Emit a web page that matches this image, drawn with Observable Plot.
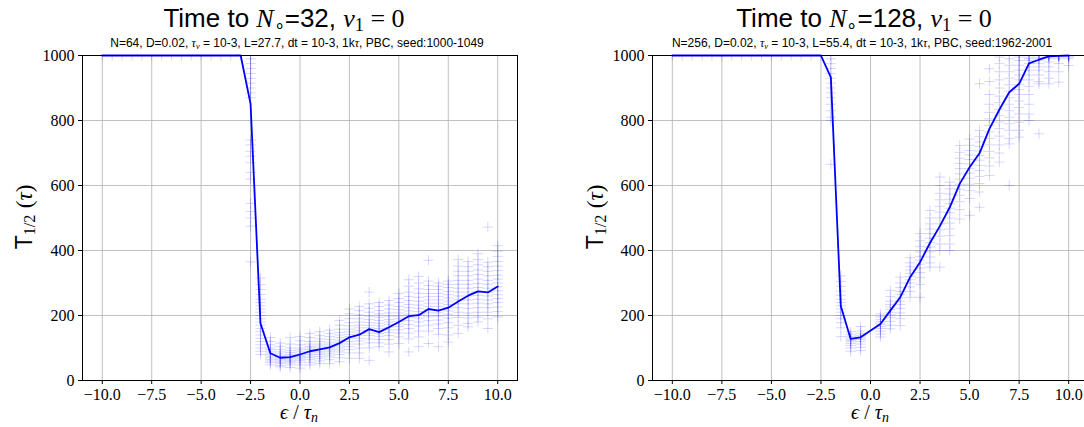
<!DOCTYPE html>
<html><head><meta charset="utf-8">
<script src="https://cdn.jsdelivr.net/npm/d3@7"></script>
<script src="https://cdn.jsdelivr.net/npm/@observablehq/plot@0.6"></script>
<style>
html,body{margin:0;padding:0;background:#fff;}
#wrap{position:relative;width:1084px;height:427px;overflow:hidden;background:#fff;}
.svgbox{position:absolute;top:50px;height:377px;}
.svgbox svg{max-width:none !important;}
.title{position:absolute;top:4px;transform:translateX(-50%);white-space:nowrap;font-family:"Liberation Sans",Arial,sans-serif;font-size:26px;line-height:28px;height:30px;color:#000;}
.subtitle{position:absolute;top:37px;transform:translateX(-50%);white-space:nowrap;font-family:"Liberation Sans",Arial,sans-serif;font-size:12px;line-height:13px;color:#000;}
.m{font-family:"Liberation Serif",serif;}
.mi{font-family:"Liberation Serif",serif;font-style:italic;}
sub{font-size:70%;vertical-align:-0.2em;line-height:0;}
.ylab{position:absolute;white-space:nowrap;transform:translate(-50%,-50%) rotate(-90deg);font-family:"Liberation Sans",Arial,sans-serif;font-size:23px;line-height:26px;}
.xlab{position:absolute;top:401px;transform:translateX(-50%);white-space:nowrap;font-family:"Liberation Serif",serif;font-size:20px;line-height:22px;}
</style>
</head><body>
<div id="wrap">
  <div class="title" style="left:284px">Time to <span class="mi">N</span><sub class="m">∘</sub>=32, <span class="mi">v</span><sub class="m">1</sub><span class="m"> = 0</span></div>
  <div class="subtitle" style="left:297px">N=64, D=0.02, <span class="mi">τ<sub>v</sub></span> = 10-3, L=27.7, dt = 10-3, 1k<span class="mi">τ</span>, PBC, seed:1000-1049</div>
  <div class="title" style="left:864px">Time to <span class="mi">N</span><sub class="m">∘</sub>=128, <span class="mi">v</span><sub class="m">1</sub><span class="m"> = 0</span></div>
  <div class="subtitle" style="left:862px">N=256, D=0.02, <span class="mi">τ<sub>v</sub></span> = 10-3, L=55.4, dt = 10-3, 1k<span class="mi">τ</span>, PBC, seed:1962-2001</div>
  <div class="ylab" style="left:24px;top:217px">T<sub class="m">1/2</sub> <span class="m">(</span><span class="mi">τ</span><span class="m">)</span></div>
  <div class="ylab" style="left:595px;top:217px">T<sub class="m">1/2</sub> <span class="m">(</span><span class="mi">τ</span><span class="m">)</span></div>
  <div class="xlab" style="left:299px"><span class="mi">ϵ</span> / <span class="mi">τ</span><sub class="mi">n</sub></div>
  <div class="xlab" style="left:870px"><span class="mi">ϵ</span> / <span class="mi">τ</span><sub class="mi">n</sub></div>
  <div class="svgbox" id="left" style="left:0px;width:542px"></div>
  <div class="svgbox" id="right" style="left:542px;width:550px"></div>
</div>
<script>
// ---- tick values ----
const xTicks = [-10, -7.5, -5, -2.5, 0, 2.5, 5, 7.5, 10];
const yTicks = [0, 200, 400, 600, 800, 1000];

// ---- left panel (N=64) ----
const epsLeft = [-10,-9.5,-9,-8.5,-8,-7.5,-7,-6.5,-6,-5.5,-5,-4.5,-4,-3.5,-3,
  -2.5,-2,-1.5,-1,-0.5,0,0.5,1,1.5,2,2.5,3,3.5,4,4.5,5,5.5,6,6.5,7,7.5,8,8.5,9,9.5,10];
const meanLeft = [1000,1000,1000,1000,1000,1000,1000,1000,1000,1000,1000,1000,1000,1000,1000,
  851,176,84,70,72,80,90,96,102,115,133,141,158,149,164,180,198,201,220,215,224,243,261,274,271,289];
const runsLeft = [
  [1000],[1000],[1000],[1000],[1000],[1000],[1000],[1000],[1000],[1000],[1000],[1000],[1000],[1000],[1000],
  [1000,990,975,960,945,930,915,900,885,870,740,725,705,690,670,640,620,545,520,500,475,365],
  [315,295,280,265,250,240,230,220,210,200,190,180,170,160,150,140,130,120,110,100,90,80],
  [132,120,110,100,95,90,85,80,75,70,65,60,55,48],
  [115,105,95,88,82,76,72,68,64,60,56,52,46,42],
  [132,112,100,92,86,80,75,70,66,62,58,54,48,40],
  [135,122,110,100,94,88,82,78,74,70,66,62,56,48,38],
  [145,132,120,112,105,100,95,90,85,80,75,70,64,56,48],
  [150,138,128,120,112,106,100,95,90,85,80,74,68,60,52],
  [155,145,135,126,118,112,106,100,95,90,84,78,72,64,52],
  [185,170,158,148,140,132,124,118,112,106,100,94,88,80,70,58],
  [220,205,190,178,168,158,150,142,135,128,120,112,104,95,85,68],
  [228,215,202,190,180,170,162,154,146,138,130,122,112,100,85,68],
  [272,236,222,210,198,188,178,170,162,154,146,138,128,116,100,62],
  [240,228,215,205,195,185,176,168,160,152,144,136,126,116,104],
  [246,232,220,208,198,188,180,172,164,156,148,138,126,112,88],
  [268,252,240,228,218,208,198,190,182,174,166,156,146,134,114],
  [310,290,272,258,246,234,224,214,204,194,184,172,160,146,128,88],
  [320,300,282,268,256,244,232,222,212,202,192,180,168,152,134,104],
  [370,306,292,280,268,258,248,238,228,218,208,196,184,170,152,114],
  [300,290,280,268,258,248,238,228,218,208,198,186,174,160,142,104],
  [306,296,286,274,264,254,244,234,224,214,204,192,178,162,140,118],
  [372,352,336,322,308,296,284,272,260,248,236,224,210,194,170,145],
  [366,350,336,322,308,296,284,272,260,248,236,222,208,192,175,165],
  [390,372,356,340,326,312,298,286,274,262,250,238,224,210,195,180],
  [472,364,350,336,322,308,296,284,272,260,248,236,224,210,190,160],
  [415,398,382,366,352,338,324,312,300,288,276,264,252,240,226,212,196]
];

// ---- right panel (N=256) ----
const epsRight = [-10,-9.5,-9,-8.5,-8,-7.5,-7,-6.5,-6,-5.5,-5,-4.5,-4,-3.5,-3,-2.5,
  -2,-1.5,-1,-0.5,0.5,1,1.5,2,2.5,3,3.5,4,4.5,5,5.5,6,6.5,7,7.5,8,8.5,9,9.5,10];
const meanRight = [1000,1000,1000,1000,1000,1000,1000,1000,1000,1000,1000,1000,1000,1000,1000,1000,
  933,229,128,133,174,215,256,318,364,423,475,533,605,656,699,774,833,887,913,976,987,997,999,1000];
const runsRight = [
  [1000],[1000],[1000],[1000],[1000],[1000],[1000],[1000],[1000],[1000],[1000],[1000],[1000],[1000],[1000],[1000],
  [1000,990,975,960,945,930,915,900,885,870,850,830,810,800,665],
  [322,305,290,275,262,250,240,230,220,210,200,190,178,162,135],
  [150,142,136,131,127,123,119,114,108,100,90],
  [166,152,144,138,134,130,126,120,112,102,92],
  [205,196,188,182,177,172,166,160,152,143,134],
  [277,258,244,234,226,218,210,202,193,182,170,159],
  [318,300,286,274,264,254,244,234,222,208,190,169],
  [378,362,350,340,330,320,310,300,288,274,256],
  [452,430,412,396,382,370,358,346,332,316,296,256],
  [523,500,482,466,452,438,424,410,396,380,362,349],
  [626,600,576,556,536,518,500,482,464,444,420,400,349],
  [610,590,574,558,544,530,516,500,484,466,446,420,400],
  [723,702,684,668,652,636,620,604,588,570,550,526,497],
  [743,724,708,694,680,666,652,638,622,604,584,560,508],
  [913,769,750,734,720,706,692,678,662,646,628,606,580,533],
  [959,920,880,850,825,805,785,765,745,725,705,685,660,631],
  [995,975,950,925,900,875,855,835,815,795,775,752,725,700,672],
  [1000,990,970,950,930,910,890,870,850,830,810,790,770,745,728,600],
  [1000,995,985,970,955,940,925,910,895,880,860,840,820,795,770,749],
  [1000,1000,995,990,985,975,965,955,940,925,905,880,850,820,800],
  [1000,1000,1000,995,990,985,975,965,955,940,920,913,759],
  [1000,1000,1000,1000,998,995,990,980,965,950,930,913],
  [1000,1000,1000,1000,1000,998,995,990,975,950,918],
  [1000,1000,1000,1000,1000,1000,998,995,990,969]
];

const fmtX = d => d.toFixed(1).replace("-", "\u2212");
const fmtY = d => String(d);

function panel(eps, mean, runs, ml, mr, w) {
  const pts = eps.flatMap((e, i) => runs[i].map(t => ({eps: e, t})));
  const line = eps.map((e, i) => ({eps: e, t: mean[i]}));
  return Plot.plot({
    width: w, height: 377,
    marginTop: 5, marginBottom: 47, marginLeft: ml, marginRight: mr,
    style: {fontFamily: "'Liberation Serif', serif", fontSize: "16px", background: "transparent", overflow: "visible", maxWidth: "none"},
    x: {domain: [-11, 11]},
    y: {domain: [0, 1000]},
    marks: [
      Plot.gridX(xTicks, {stroke: "#b0b0b0", strokeOpacity: 1, strokeWidth: 0.8}),
      Plot.gridY(yTicks, {stroke: "#b0b0b0", strokeOpacity: 1, strokeWidth: 0.8}),
      Plot.dot(pts, {x: "eps", y: "t", symbol: "plus", r: 3.4, stroke: "#0000ff", strokeOpacity: 0.16, strokeWidth: 1, clip: true}),
      Plot.line(line, {x: "eps", y: "t", stroke: "#0000ff", strokeWidth: 1.8}),
      Plot.frame({stroke: "#000", strokeWidth: 1}),
      Plot.axisX(xTicks, {tickFormat: fmtX, tickSize: 4, tickPadding: 4, label: null, fontSize: 16}),
      Plot.axisY(yTicks, {tickFormat: fmtY, tickSize: 4, tickPadding: 4, label: null, fontSize: 16})
    ]
  });
}

document.getElementById("left").appendChild(panel(epsLeft, meanLeft, runsLeft, 82, 25, 542));
document.getElementById("right").appendChild(panel(epsRight, meanRight, runsRight, 110, 4, 550));
</script>
</body></html>
